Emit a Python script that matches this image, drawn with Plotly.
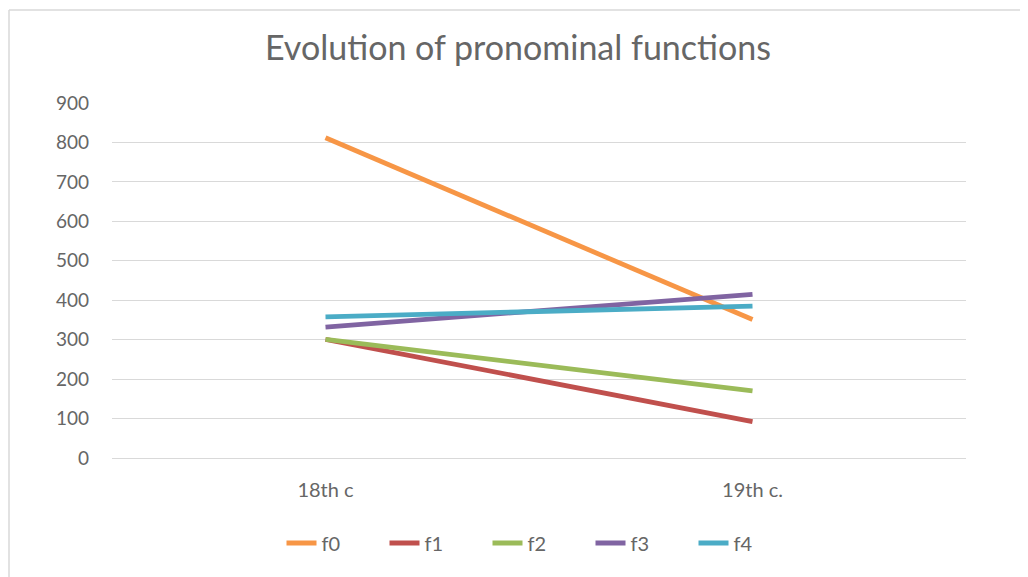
import plotly.graph_objects as go

categories = ["18th c", "19th c."]
series_names = ["f0", "f1", "f2", "f3", "f4"]
f0 = [812, 351]
f1 = [301, 92]
f2 = [301, 170]
f3 = [332, 415]
f4 = [358, 385]
values = [f0, f1, f2, f3, f4]
colors = ["#F79646", "#C0504D", "#9BBB59", "#8064A2", "#4BACC6"]
y_ticks = [0, 100, 200, 300, 400, 500, 600, 700, 800, 900]

# page body has an 8px margin, so figure coordinates are shifted by 8px
OFF = 8
W, H = 1028 - OFF, 577 - OFF
L, R, T = 112 - OFF, 62, 103 - OFF
B = H - (458 - OFF)
pw, ph = W - L - R, H - T - B

fig = go.Figure()
for name, vals, col in zip(series_names, values, colors):
    fig.add_trace(go.Scatter(
        x=list(range(len(categories))), y=vals, name=name, mode="lines",
        line=dict(color=col, width=4.8),
    ))

def px_x(p):
    return (p - OFF - L) / pw

def px_y(p):
    return (H - B - (p - OFF)) / ph

border = "#D9D9D9"
fig.add_shape(type="line", xref="paper", yref="paper",
              x0=px_x(9), x1=px_x(1100), y0=px_y(10), y1=px_y(10),
              line=dict(color=border, width=1.5))
fig.add_shape(type="line", xref="paper", yref="paper",
              x0=px_x(9), x1=px_x(9), y0=px_y(10), y1=px_y(600),
              line=dict(color=border, width=1.5))

txt = "#666666"
fig.update_layout(
    width=W, height=H,
    margin=dict(l=L, r=R, t=T, b=B, autoexpand=False),
    paper_bgcolor="white", plot_bgcolor="white",
    font=dict(family="Lato, Carlito, sans-serif", color=txt, size=19),
    title=dict(text="Evolution of pronominal functions", x=0.5, xanchor="center",
               y=1 - (48 - OFF) / H, yanchor="middle",
               font=dict(size=34, color=txt)),
    xaxis=dict(
        range=[-0.5, 1.5], tickmode="array", tickvals=list(range(len(categories))),
        ticktext=categories, showgrid=False, zeroline=False, showline=False,
        ticks="", ticklabelstandoff=18, tickfont=dict(size=20, color=txt),
    ),
    yaxis=dict(
        range=[0, 900], tickmode="array", tickvals=y_ticks,
        showgrid=True, gridcolor="#D9D9D9", gridwidth=1.3,
        zeroline=True, zerolinecolor="#D9D9D9", zerolinewidth=1.3,
        showline=False, ticks="", ticklabelstandoff=22,
        tickfont=dict(size=19, color=txt),
    ),
    legend=dict(orientation="h", x=0.5, xanchor="center",
                y=px_y(543), yanchor="middle",
                font=dict(size=20, color=txt), entrywidth=58,
                traceorder="normal"),
    showlegend=True,
)

fig.write_html("out.html")
